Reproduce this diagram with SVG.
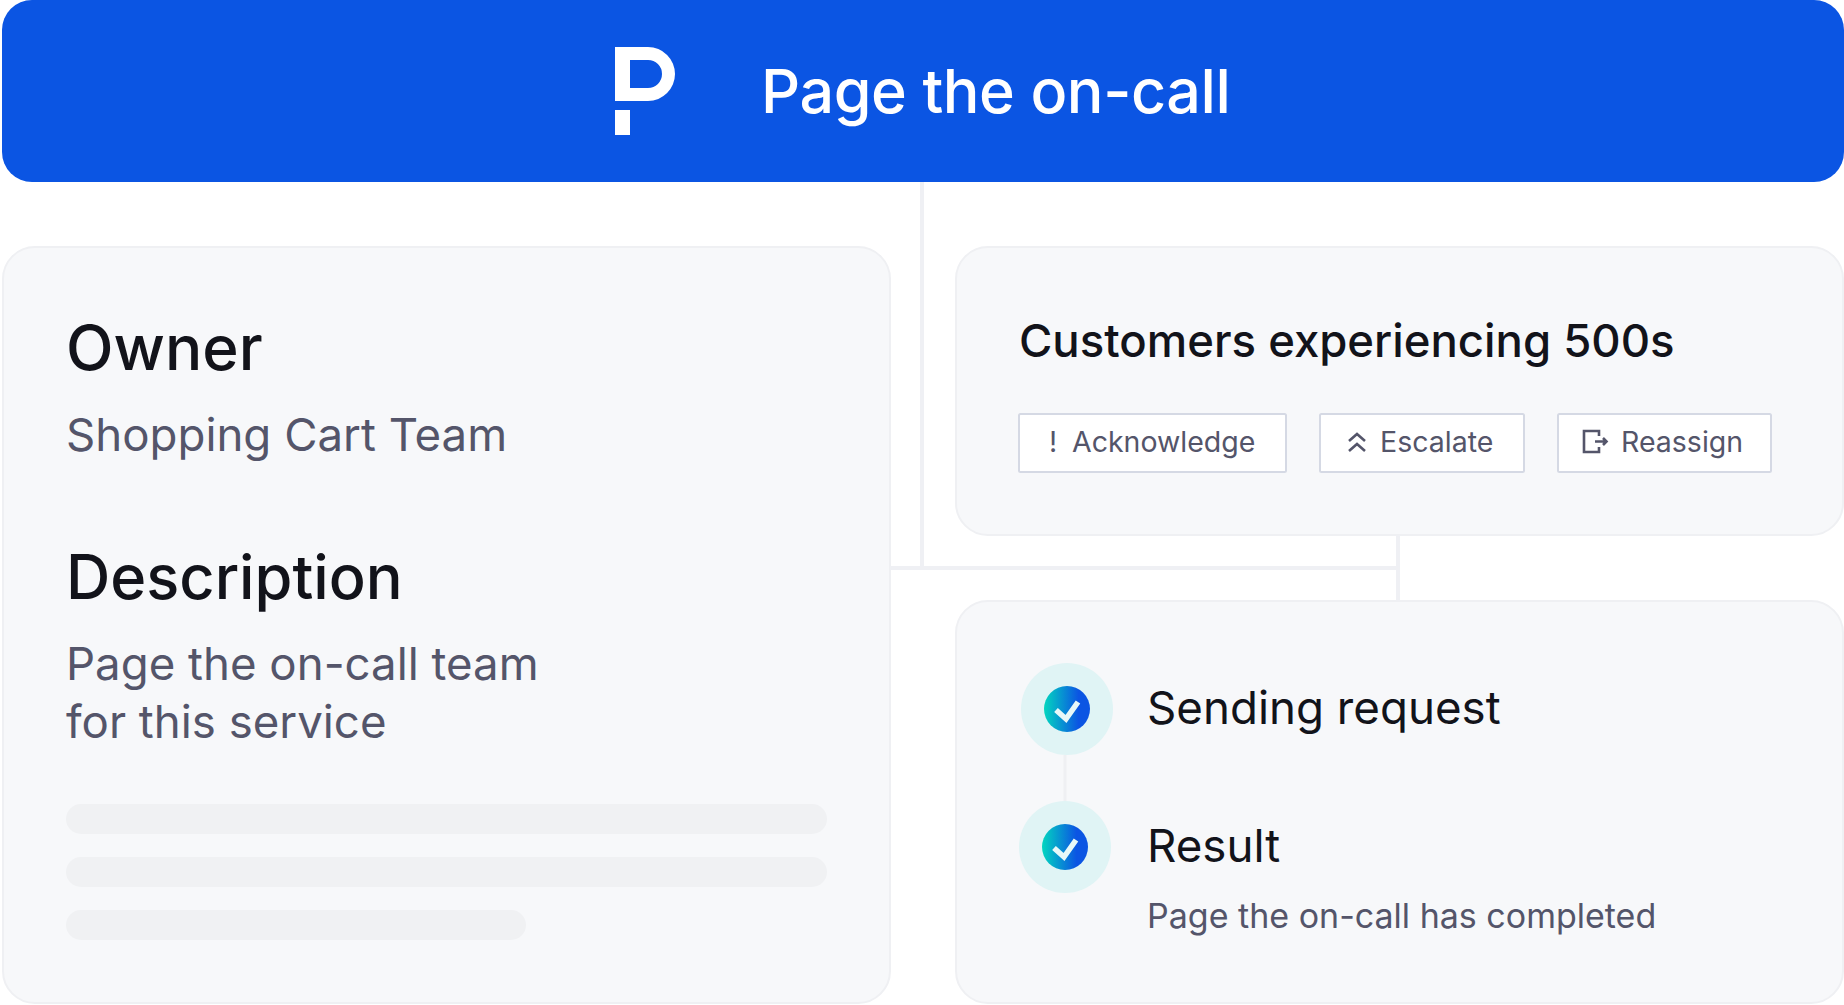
<svg xmlns="http://www.w3.org/2000/svg" width="1844" height="1005" viewBox="0 0 1844 1005">
<defs>
<linearGradient id="g" x1="0" y1="0" x2="1" y2="0"><stop offset="0" stop-color="#03d6bf"/><stop offset="0.75" stop-color="#0b55e3"/></linearGradient>
</defs>
<style>
text{font-family:Inter,"Noto Sans",sans-serif}
.card{fill:#f7f8fa;stroke:#eff0f3;stroke-width:2}
.h{font-weight:500;fill:#12131a}
.s{font-size:45.6px;fill:#54556a}
.btn{fill:#fff;stroke:#d5d9e4;stroke-width:2}
.bt{font-size:28.5px;fill:#54556a}
.bar{fill:#f0f1f3}
.ic{fill:none;stroke:#54556a;stroke-width:2.6}
.ln{fill:none;stroke:#eff0f4;stroke-width:4}
.ck{fill:none;stroke:#e8f8f8;stroke-width:5.5}
</style>
<g id="header">
<rect x="2" y="0" width="1842" height="182" rx="30" fill="#0b55e3"/>
<path d="M615 47H648a27 27 0 0 1 0 54H615ZM630 60V88H648a14 14 0 0 0 0-28Z M615 110H630V135H615Z" fill="#fff" fill-rule="evenodd"/>
<text x="761" y="113" font-size="61" font-weight="500" letter-spacing="-0.4" fill="#fff">Page the on-call</text>
</g>
<g id="owner-card">
<rect class="card" x="3" y="247" width="887" height="756" rx="32"/>
<text class="h" x="66" y="370" font-size="62">Owner</text>
<text class="s" x="66" y="451">Shopping Cart Team</text>
<text class="h" x="66" y="599" font-size="61.3">Description</text>
<text class="s" x="66" y="680">Page the on-call team</text>
<text class="s" x="66" y="738">for this service</text>
<rect class="bar" x="66" y="804" width="761" height="30" rx="15"/>
<rect class="bar" x="66" y="857" width="761" height="30" rx="15"/>
<rect class="bar" x="66" y="910" width="460" height="30" rx="15"/>
</g>
<g id="alert-card">
<rect class="card" x="956" y="247" width="887" height="288" rx="32"/>
<text class="h" x="1019" y="357" font-size="45.5">Customers experiencing 500s</text>
<rect class="btn" x="1019" y="414" width="267" height="58" rx="1.5"/>
<text class="bt" x="1049" y="452">!</text>
<text class="bt" x="1072" y="452">Acknowledge</text>
<rect class="btn" x="1320" y="414" width="204" height="58" rx="1.5"/>
<path class="ic" d="M1349 441l8-7 8 7M1349 451l8-7 8 7"/>
<text class="bt" x="1380" y="452">Escalate</text>
<rect class="btn" x="1558" y="414" width="213" height="58" rx="1.5"/>
<path class="ic" d="M1599 436V431H1584V452H1599V447M1595 441.5H1606M1603 438l3.5 3.5-3.5 3.5"/>
<text class="bt" x="1621" y="452">Reassign</text>
</g>
<g id="status-card">
<rect class="card" x="956" y="601" width="887" height="402" rx="32"/>
<circle cx="1067" cy="709" r="46" fill="#e0f4f5"/>
<circle cx="1067" cy="709" r="23" fill="url(#g)"/>
<path class="ck" d="M1056 710l10 9 12-17"/>
<text x="1147" y="724" font-size="45.7" fill="#12131a">Sending request</text>
<circle cx="1065" cy="847" r="46" fill="#e0f4f5"/>
<circle cx="1065" cy="847" r="23" fill="url(#g)"/>
<path class="ck" d="M1054 848l10 9 12-17"/>
<text x="1147" y="862" font-size="45.7" fill="#12131a">Result</text>
<text x="1147" y="928" font-size="34" fill="#54556a">Page the on-call has completed</text>
</g>
<g id="connectors">
<path class="ln" d="M922 182V568M890 568H1398M1398 535V601"/>
<path d="M1065 755V801" fill="none" stroke="#eff0f3" stroke-width="3"/>
</g>
</svg>
